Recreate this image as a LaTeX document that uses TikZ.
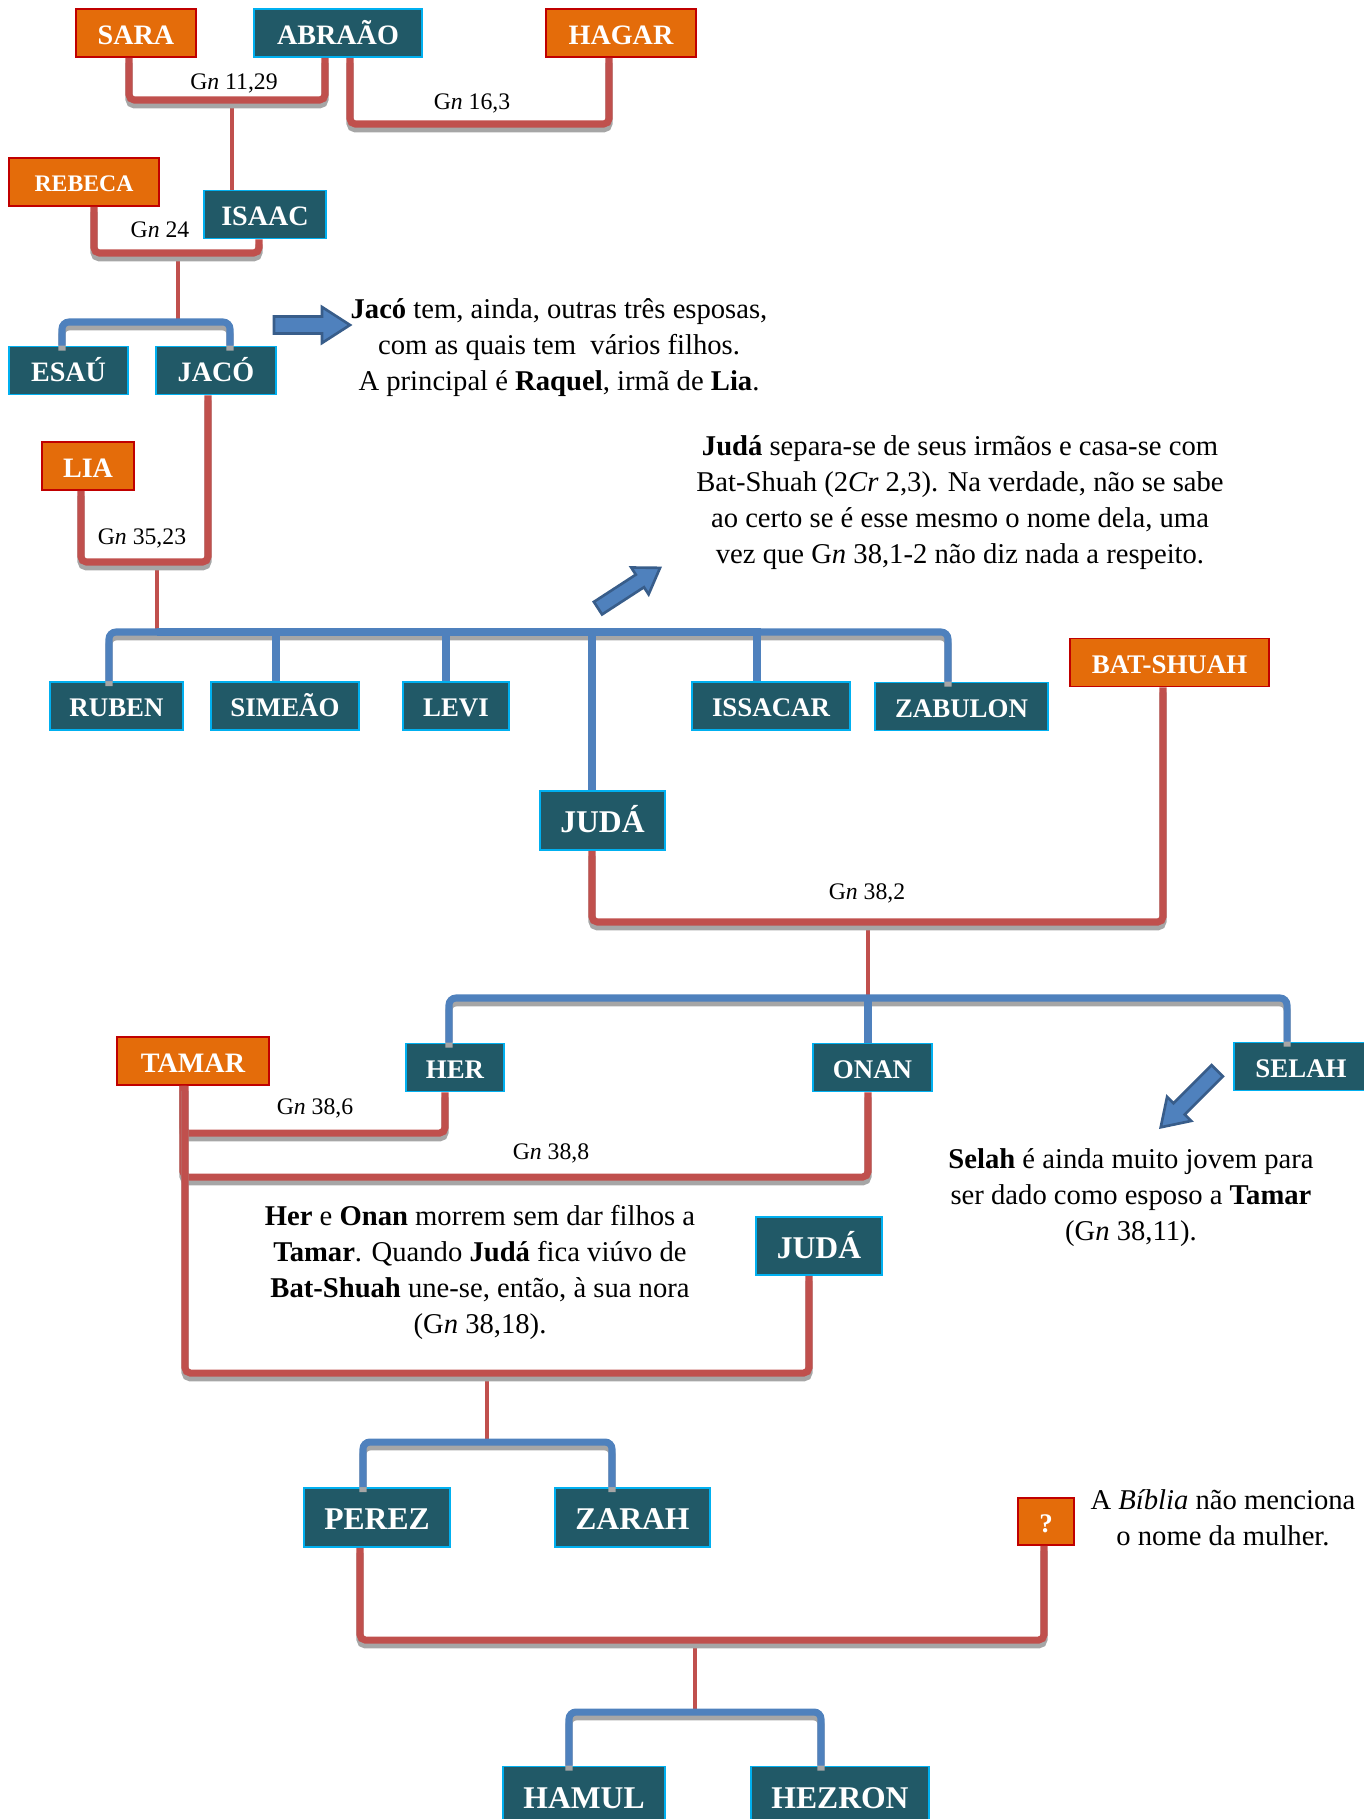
\documentclass[tikz,border=0pt]{standalone}
\usepackage{fontspec}
\setmainfont{Liberation Serif}
\usetikzlibrary{calc,positioning}

\definecolor{tealbox}{HTML}{215967}
\definecolor{tealedge}{HTML}{00B0F0}
\definecolor{orangebox}{HTML}{E46C0A}
\definecolor{orangeedge}{HTML}{C00000}
\definecolor{redline}{HTML}{C0504D}
\definecolor{blueline}{HTML}{4F81BD}
\definecolor{shadowgray}{HTML}{A6A6A6}
\definecolor{arrowedge}{HTML}{385D8A}

\newcommand{\Gn}{G\textit{n}}

\begin{document}
\begin{tikzpicture}[x=0.02cm,y=-0.02cm,
    person/.style={draw=tealedge,fill=tealbox,text=white,line width=1pt,inner sep=0pt,
        minimum height=0.96cm,text height=12.8pt,text depth=0pt,
        font=\fontsize{16}{18}\selectfont\bfseries},
    wife/.style={person,draw=orangeedge,fill=orangebox},
    narrow/.style={text height=12.2pt,font=\fontsize{15.3}{17}\selectfont\bfseries},
    tall/.style={minimum height=1.18cm,text height=14.2pt,font=\fontsize{18}{20}\selectfont\bfseries},
    couple/.style={draw=redline,line width=4pt,rounded corners=3pt,
        preaction={draw=shadowgray,line width=4pt,transform canvas={yshift=-2.8pt}}},
    sibs/.style={draw=blueline,line width=4pt,rounded corners=4pt,
        preaction={draw=shadowgray,line width=4pt,transform canvas={yshift=-2.8pt}}},
    drop/.style={draw=blueline,line width=4pt},
    stem/.style={draw=redline,line width=2.5pt},
    gnlabel/.style={font=\fontsize{13.5}{15}\selectfont,inner sep=0pt},
    note/.style={align=center,font=\fontsize{16.3}{20.5}\selectfont,inner sep=0pt},
    blockarrow/.style={fill=blueline,draw=arrowedge,line width=1.5pt,line join=miter}]

    \useasboundingbox (0,0) rectangle (1364,1819);

    % first generations
    \node[wife,minimum width=2.4cm] (sara) at (136,33) {SARA};
    \node[person,minimum width=3.36cm] (abraao) at (338,33) {ABRAÃO};
    \node[wife,minimum width=3cm] (hagar) at (621,33) {HAGAR};
    \node[wife,minimum width=3cm,text height=10.8pt,font=\fontsize{13.5}{15}\selectfont\bfseries] (rebeca) at (84,182) {REBECA};
    \node[person,minimum width=2.44cm] (isaac) at (265,214.5) {ISAAC};
    \node[person,minimum width=2.38cm] (esau) at (68.5,370.5) {ESAÚ};
    \node[person,minimum width=2.4cm] (jaco) at (216,370.5) {JACÓ};
    \node[wife,minimum width=1.84cm] (lia) at (88,466) {LIA};

    % sons of Jacob and Lia
    \node[person,narrow,minimum width=2.66cm] (ruben) at (116.5,706) {RUBEN};
    \node[person,narrow,minimum width=2.96cm] (simeao) at (285,706) {SIMEÃO};
    \node[person,narrow,minimum width=2.12cm] (levi) at (456,706) {LEVI};
    \node[person,tall,minimum width=2.5cm] (juda1) at (602.5,820.5) {JUDÁ};
    \node[person,narrow,minimum width=3.16cm] (issacar) at (771,706) {ISSACAR};
    \node[person,narrow,minimum width=3.46cm] (zabulon) at (961.5,706.5) {ZABULON};
    \node[wife,narrow,minimum width=3.98cm] (batshuah) at (1169.5,662.5) {BAT-SHUAH};

    % Juda's house
    \node[wife,minimum width=3.04cm] (tamar) at (193,1061) {TAMAR};
    \node[person,narrow,minimum width=1.96cm] (her) at (455,1067.5) {HER};
    \node[person,narrow,minimum width=2.38cm] (onan) at (872.5,1067.5) {ONAN};
    \node[person,narrow,minimum width=2.68cm] (selah) at (1301,1066.5) {SELAH};
    \node[person,tall,minimum width=2.52cm,minimum height=1.16cm] (juda2) at (819,1246) {JUDÁ};
    \node[person,tall,minimum width=2.92cm] (perez) at (377,1517.5) {PEREZ};
    \node[person,tall,minimum width=3.1cm] (zarah) at (632.5,1517.5) {ZARAH};
    \node[wife,narrow,minimum width=1.12cm,minimum height=0.94cm] (unknown) at (1046,1521.5) {?};
    \node[person,tall,minimum width=3.24cm] (hamul) at (584,1796) {HAMUL};
    \node[person,tall,minimum width=3.56cm] (hezron) at (840,1796) {HEZRON};

    % marriage and sibling lines
    \coordinate (m1) at (232,100);
    \coordinate (m2) at (472,124);
    \coordinate (m3) at (178,253);
    \coordinate (m4) at (157,562);
    \coordinate (m5) at (868,922);
    \coordinate (m6) at (315,1133);
    \coordinate (m7) at (551,1177);
    \coordinate (m8) at (487,1373);
    \coordinate (m9) at (695,1640);
    \coordinate (b1) at (178,322);
    \coordinate (b2) at (157,632);
    \coordinate (b3) at (868,998);
    \coordinate (b4) at (487,1442);
    \coordinate (b5) at (695,1712);

    \draw[stem] (m1) -- (m1 |- isaac.north);
    \draw[stem] (m3) -- (b1);
    \draw[stem] (m4) -- (b2);
    \draw[stem] (m5) -- (b3);
    \draw[stem] (m8) -- (b4);
    \draw[stem] (m9) -- (b5);

    \draw[couple] ($(sara.south)+(-7,0)$) |- (m1) -| ($(abraao.south)+(-13,0)$);
    \draw[couple] ($(abraao.south)+(12,0)$) |- (m2) -| ($(hagar.south)+(-12,0)$);
    \draw[couple] ($(rebeca.south)+(10,0)$) |- (m3) -| ($(isaac.south)+(-6,0)$);
    \draw[couple] ($(lia.south)+(-7,0)$) |- (m4) -| ($(jaco.south)+(-8,0)$);
    \draw[couple] ($(juda1.south)+(-10.5,0)$) |- (m5) -| ($(batshuah.south)+(-6.5,0)$);
    \draw[couple] ($(tamar.south)+(-10,0)$) |- (m6) -| ($(her.south)+(-10,0)$);
    \draw[couple] ($(tamar.south)+(-10,0)$) |- (m7) -| ($(onan.south)+(-4.5,0)$);
    \draw[couple] ($(tamar.south)+(-8,0)$) |- (m8) -| ($(juda2.south)+(-10,0)$);
    \draw[couple] ($(perez.south)+(-17,0)$) |- (m9) -| ($(unknown.south)+(-2,0)$);

    \draw[sibs] ($(esau.north)+(-6.5,0)$) |- (b1) -| ($(jaco.north)+(14,0)$);
    \draw[sibs] ($(ruben.north)+(-7.5,0)$) |- (b2) -| ($(zabulon.north)+(-13.5,0)$);
    \draw[drop] ($(simeao.north)+(-9,0)$) |- (b2);
    \draw[drop] ($(levi.north)+(-10,0)$) |- (b2);
    \draw[drop] ($(juda1.north)+(-10.5,0)$) |- (b2);
    \draw[drop] ($(issacar.north)+(-14,0)$) |- (b2);
    \draw[sibs] ($(her.north)+(-6,0)$) |- (b3) -| ($(selah.north)+(-14,0)$);
    \draw[drop] ($(onan.north)+(-4.5,0)$) |- (b3);
    \draw[sibs] ($(perez.north)+(-14,0)$) |- (b4) -| ($(zarah.north)+(-20.5,0)$);
    \draw[sibs] ($(hamul.north)+(-15,0)$) |- (b5) -| ($(hezron.north)+(-19,0)$);

    % references
    \node[gnlabel] (gn1) at (234,83) {\Gn{} 11,29};
    \node[gnlabel] (gn2) at (472,103) {\Gn{} 16,3};
    \node[gnlabel] (gn3) at (160,230) {\Gn{} 24};
    \node[gnlabel] (gn4) at (142,538) {\Gn{} 35,23};
    \node[gnlabel] (gn5) at (867,893) {\Gn{} 38,2};
    \node[gnlabel] (gn6) at (315,1108) {\Gn{} 38,6};
    \node[gnlabel] (gn7) at (551,1153) {\Gn{} 38,8};

    % notes
    \node[note] (jaconote) at (559,348) {\textbf{Jacó} tem, ainda, outras três esposas,\\
        com as quais tem\ \ vários filhos.\\A principal é \textbf{Raquel}, irmã de \textbf{Lia}.};
    \node[note] (judanote) at (960,503) {\textbf{Judá} separa-se de seus irmãos e casa-se com\\
        Bat-Shuah (2\textit{Cr} 2,3). Na verdade, não se sabe\\
        ao certo se é esse mesmo o nome dela, uma\\
        vez que \Gn{} 38,1-2 não diz nada a respeito.};
    \node[note] (tamarnote) at (480,1272) {\textbf{Her} e \textbf{Onan} morrem sem dar filhos a\\
        \textbf{Tamar}. Quando \textbf{Judá} fica viúvo de\\
        \textbf{Bat-Shuah} une-se, então, à sua nora\\(\Gn{} 38,18).};
    \node[note] (selahnote) at (1131,1198) {\textbf{Selah} é ainda muito jovem para\\
        ser dado como esposo a \textbf{Tamar}\\(\Gn{} 38,11).};
    \node[note] (womannote) at (1223,1518) {A \textit{Bíblia} não menciona\\o nome da mulher.};

    % block arrows
    \draw[blockarrow,shift={(312,325)}] (-38,-8.5) -- (10,-8.5) -- (10,-18) -- (38,0)
        -- (10,18) -- (10,8.5) -- (-38,8.5) -- cycle;
    \draw[blockarrow,shift={(629,588)},rotate=33] (-37,-7.5) -- (13,-7.5) -- (13,-16) -- (37,0)
        -- (13,16) -- (13,7.5) -- (-37,7.5) -- cycle;
    \draw[blockarrow,shift={(1189,1099)},rotate=225] (-40,-8) -- (14,-8) -- (14,-17) -- (40,0)
        -- (14,17) -- (14,8) -- (-40,8) -- cycle;
\end{tikzpicture}
\end{document}
